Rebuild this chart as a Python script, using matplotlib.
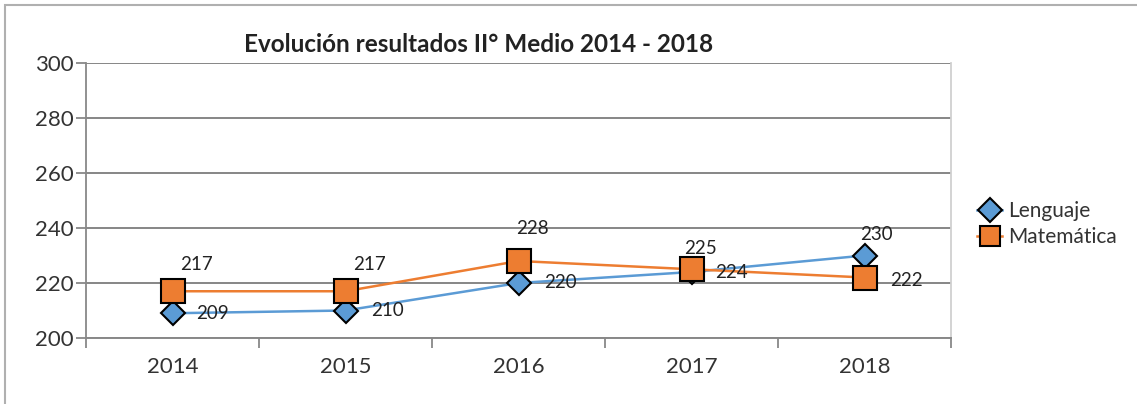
import matplotlib
matplotlib.use("Agg")
import matplotlib.pyplot as plt
from matplotlib.patches import Rectangle
from matplotlib.lines import Line2D

years = ["2014", "2015", "2016", "2017", "2018"]
lenguaje = [209, 210, 220, 224, 230]
matematica = [217, 217, 228, 225, 222]
series_names = ["Lenguaje", "Matemática"]
title = "Evolución resultados II° Medio 2014 - 2018"
y_ticks = [200, 220, 240, 260, 280, 300]

# label offsets in pixels (dx, dy), style only
off_len = [(24, 0), (26, 0), (26, 0), (24, 0), (-4, 21)]
off_mat = [(8, 27), (8, 27), (-2, 32), (-7, 21), (26, -3)]

plt.rcParams['font.family'] = ['Lato', 'DejaVu Sans']
DPI = 100
W, H = 1137, 404
fig = plt.figure(figsize=(W / DPI, H / DPI), dpi=DPI)
px = 72.0 / DPI

# outer border (top/left visible)
fig.patches.append(Rectangle((5 / W, -0.05), 1.1, (H - 5) / H + 0.05, transform=fig.transFigure,
                             fill=False, edgecolor='#b0b0b0', linewidth=1.5, zorder=0))

ax = fig.add_axes([86 / W, 1 - 338 / H, (951 - 86) / W, (338 - 63) / H])
x = list(range(len(years)))

blue = '#5b9bd5'
orange = '#ed7d31'
ax.plot(x, lenguaje, color=blue, lw=1.8, marker='D', ms=12.5, mfc=blue, mec='black', mew=1.5, zorder=3,
        label=series_names[0])
ax.plot(x, matematica, color=orange, lw=1.8, marker='s', ms=17.5, mfc=orange, mec='black', mew=1.5, zorder=4,
        label=series_names[1])

for xi, v, (dx, dy) in zip(x, lenguaje, off_len):
    ax.annotate(str(v), (xi, v), xytext=(dx * px, dy * px), textcoords='offset points',
                ha='left', va='center', fontsize=13.5, color='#222222', zorder=5)
for xi, v, (dx, dy) in zip(x, matematica, off_mat):
    ax.annotate(str(v), (xi, v), xytext=(dx * px, dy * px), textcoords='offset points',
                ha='left', va='center', fontsize=13.5, color='#222222', zorder=5)

ax.set_xlim(-0.5, len(years) - 0.5)
ax.set_ylim(200, 300)
ax.set_yticks(y_ticks)
ax.set_yticklabels([str(t) for t in y_ticks])
ax.set_xticks(x)
ax.set_xticklabels(years)
ax.set_xticks([i - 0.5 for i in range(len(years) + 1)], minor=True)
ax.tick_params(axis='x', which='major', length=0, pad=14, labelsize=16, labelcolor='#333333')
ax.tick_params(axis='x', which='minor', length=7, width=1.3, color='#888888', direction='out')
ax.tick_params(axis='y', length=7, width=1.3, color='#888888', labelsize=16, labelcolor='#333333', pad=2)
ax.yaxis.grid(True, color='#868686', lw=1.4)
ax.set_axisbelow(True)
ax.spines['top'].set_visible(False)
ax.spines['right'].set_color('#d0d0d0')
ax.spines['right'].set_linewidth(1.3)
ax.spines['left'].set_color('#888888')
ax.spines['left'].set_linewidth(1.3)
ax.spines['bottom'].set_color('#888888')
ax.spines['bottom'].set_linewidth(1.4)

fig.text(479 / W, 1 - 45 / H, title, ha='center', va='center', fontsize=17.5, fontweight='bold', color='#222222')

handles = [Line2D([0], [0], color=blue, lw=1.8, marker='D', ms=12, mfc=blue, mec='black', mew=1.5),
           Line2D([0], [0], color=orange, lw=1.8, marker='s', ms=14, mfc=orange, mec='black', mew=1.5)]
fig.legend(handles, series_names, loc='center left', bbox_to_anchor=(977 / W, 1 - 224 / H), frameon=False,
           fontsize=15, handlelength=1.2, handletextpad=0.3, labelspacing=0.3, labelcolor='#333333',
           borderpad=0, borderaxespad=0)

fig.savefig('out.png', dpi=DPI)
